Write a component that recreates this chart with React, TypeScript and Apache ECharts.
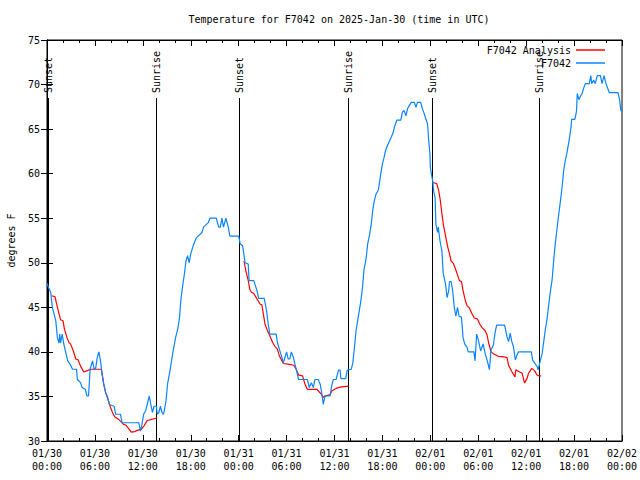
import React, { useEffect, useRef } from "react";
import * as echarts from "echarts";

// ---- Data (hours since 2025-01-30 00:00 UTC, degrees F) ----
const observedF7042: [number, number][] = [
  [0, 47.7], [0.2, 47.2], [0.46, 46.7], [0.67, 45], [1.1, 43.5], [1.3, 41.6], [1.5, 41.0], [1.6, 42], [1.7, 41], [1.9, 42],
  [2.1, 40.9], [2.3, 40.1], [2.6, 39.0], [2.9, 38.6], [3.2, 38.05], [3.7, 38.05], [3.8, 36.9], [4.2, 36.55], [4.4, 36], [4.8, 35.8],
  [5.0, 35.05], [5.2, 35.05], [5.4, 38.05], [5.7, 39], [5.9, 38.05], [6.1, 38.2], [6.3, 39.4], [6.5, 40], [6.7, 39], [6.9, 37.5],
  [7.1, 36.4], [7.35, 35.4], [7.55, 35.05], [7.8, 34.1], [8.4, 33.9], [8.6, 33.0], [9.2, 33], [9.4, 32.05], [11.5, 32.05], [11.7, 31.1],
  [11.9, 31.9], [12.1, 33], [12.35, 33.4], [12.55, 34.1], [12.8, 35.05], [13.0, 34.1], [13.2, 33.2], [13.4, 33.9], [13.7, 33.9], [13.8, 33],
  [14.0, 33.2], [14.2, 33.9], [14.4, 33.2], [14.6, 33], [14.9, 34.5], [15.1, 36.4], [15.4, 37.9], [15.7, 39.6], [16.1, 41.6], [16.4, 42.7],
  [16.6, 43.9], [16.75, 45.7], [16.95, 47.2], [17.2, 48.7], [17.4, 50.2], [17.6, 50.8], [17.8, 50.0], [18.0, 51.0], [18.3, 51.9],
  [18.7, 52.8], [19.4, 53.4], [19.6, 54.0], [20.2, 54.5], [20.4, 55.0], [21.2, 55.0], [21.5, 54.0], [21.7, 54], [21.9, 55], [22.1, 54],
  [22.4, 55], [22.7, 54], [22.9, 53.0], [24.0, 53.0], [24.2, 52.1], [24.5, 51.9], [24.8, 50.0], [25.2, 49.85], [25.3, 48.0], [25.9, 48],
  [26.3, 46.85], [26.5, 46.0], [27.2, 46], [27.5, 44.6], [27.7, 43.1], [27.9, 42.0], [28.7, 42], [28.85, 41.05], [29.2, 40], [29.4, 39.4],
  [29.6, 38.8], [29.8, 39.4], [30.0, 40], [30.2, 39.2], [30.4, 39.2], [30.6, 40], [30.85, 39.4], [31.05, 38.6], [31.25, 37.9], [31.5, 36.9],
  [32.6, 36.9], [32.85, 36.0], [33.1, 36.55], [33.35, 36], [33.55, 36.9], [33.95, 36.9], [34.2, 36.4], [34.4, 35.4], [34.6, 34.1], [34.8, 35.05],
  [35.45, 35.05], [35.65, 36.2], [35.85, 36.9], [36.2, 36.9], [36.5, 37.95], [36.7, 37.95], [36.8, 37.0], [37.4, 37.0], [37.6, 37.95], [38.1, 38.05],
  [38.3, 38.8], [38.5, 40.5], [38.7, 42.4], [38.9, 43.5], [39.1, 44.6], [39.3, 45.7], [39.5, 47.2], [39.7, 49.3], [39.95, 50.4], [40.15, 52.1],
  [40.4, 53.2], [40.6, 54.3], [40.8, 56.0], [41.0, 57.0], [41.2, 57.7], [41.5, 58.2], [41.8, 60.0], [42.0, 61.1], [42.2, 61.8], [42.4, 62.6],
  [42.6, 63.1], [42.9, 63.7], [43.1, 64.1], [43.3, 64.5], [43.5, 65.2], [43.8, 66.0], [44.3, 66.0], [44.5, 66.9], [44.7, 67.1], [44.95, 66.5],
  [45.15, 67.3], [45.6, 68.0], [46.0, 68.0], [46.2, 67.45], [46.4, 68.0], [46.8, 68.0], [47.0, 67.3], [47.25, 66.7], [47.45, 66.1], [47.65, 65.6],
  [47.8, 63.7], [47.95, 62.2], [48.0, 60.7], [48.2, 59.6], [48.3, 59.2], [48.4, 58.1], [48.6, 57.3], [48.7, 54.3], [48.9, 53.4], [49.0, 54.0],
  [49.2, 52.5], [49.45, 51.35], [49.6, 48.9], [49.9, 47.6], [50.1, 46.1], [50.3, 46.85], [50.4, 47.9], [50.6, 47.9], [50.8, 46.85], [51.0, 45.0],
  [51.2, 44.0], [51.4, 45.0], [51.6, 44.0], [51.9, 43.9], [52.1, 41.6], [52.3, 40.9], [52.6, 40.5], [52.75, 40.0], [53.45, 40.0], [53.6, 39.0],
  [53.8, 42.0], [54.0, 41.4], [54.3, 40.1], [54.6, 40.9], [54.9, 39.7], [55.1, 39.1], [55.4, 38.0], [55.6, 40.2], [55.9, 40.8], [56.1, 42.1],
  [56.3, 43.0], [57.3, 43.0], [57.6, 41.7], [57.8, 41.15], [58.0, 42.1], [58.2, 41.15], [58.4, 40.6], [58.65, 39.1], [58.85, 39.65], [59.05, 40.0],
  [60.65, 40.0], [60.8, 39.1], [61.4, 38.3], [61.5, 38.0], [61.8, 39.1], [62.0, 39.8], [62.2, 41.15], [62.4, 42.5], [62.6, 43.6], [62.8, 45.1],
  [63.0, 46.6], [63.25, 48.1], [63.45, 50.3], [63.65, 52.2], [63.9, 54.1], [64.1, 55.6], [64.3, 57.0], [64.5, 58.5], [64.7, 60.4], [64.9, 61.5],
  [65.1, 62.3], [65.35, 63.6], [65.6, 65.1], [65.7, 66.1], [66.1, 66.1], [66.3, 67.0], [66.4, 69.0], [66.6, 68.3], [66.8, 68.7], [67.0, 69.0],
  [67.2, 69.6], [67.4, 70.1], [67.9, 70.1], [68.1, 71.0], [68.2, 70.1], [68.45, 70.5], [68.65, 70.1], [68.9, 71.0], [69.3, 71.0], [69.5, 70.1],
  [69.75, 71.0], [70.0, 70.1], [70.4, 69.1], [71.5, 69.1], [71.7, 68.3], [71.85, 67.1], [72, 67.0],
];

const analysisNight1: [number, number][] = [
  [0.55, 46.3], [1.0, 46.2], [1.2, 45.4], [1.5, 44.3], [1.7, 43.6], [2.0, 43.5], [2.2, 42.5], [2.5, 41.6], [2.75, 41.05], [2.95, 40.9],
  [3.3, 40.1], [3.6, 39.2], [3.9, 39.1], [4.2, 38.4], [4.6, 37.75], [5.05, 37.9], [5.5, 38.05], [6.8, 38.05], [6.9, 37.5], [7.1, 36.4],
  [7.35, 35.4], [7.7, 34.5], [7.9, 33.9], [8.2, 33.2], [8.5, 32.7], [9.0, 32.4], [9.55, 31.9], [9.85, 31.8], [10.3, 31.3], [10.55, 31.0],
  [11.0, 31.05], [11.3, 31.2], [11.8, 31.3], [12.15, 31.7], [12.55, 32.3], [13.0, 32.4], [13.4, 32.5], [13.8, 32.6],
];
const analysisNight2: [number, number][] = [
  [24.67, 50.2], [24.9, 49.1], [25.2, 48.0], [25.4, 47.0], [25.6, 46.7], [25.9, 46.55], [26.25, 46.0], [26.7, 45.35], [26.9, 45.3], [27.1, 44.2],
  [27.3, 43.1], [27.6, 42.4], [27.9, 41.8], [28.25, 41.05], [28.55, 40.6], [28.85, 40.3], [29.1, 39.55], [29.3, 39.2], [29.6, 38.7], [30.35, 38.6],
  [30.9, 38.5], [31.2, 38.05], [31.5, 37.4], [32.0, 37.3], [32.3, 36.4], [32.6, 35.8], [33.8, 35.8], [34.1, 35.5], [34.4, 35.2], [34.6, 34.9],
  [34.8, 35.05], [35.45, 35.2], [35.65, 35.6], [36.2, 35.9], [36.7, 36.05], [37.2, 36.1], [37.8, 36.15],
];
const analysisNight3: [number, number][] = [
  [48.3, 59.0], [48.8, 58.9], [49.05, 58.1], [49.25, 57.0], [49.45, 55.5], [49.65, 54.2], [49.95, 52.8], [50.2, 51.7], [50.4, 51.0], [50.6, 50.2],
  [50.9, 49.9], [51.15, 49.3], [51.45, 48.5], [51.65, 48.0], [51.9, 47.9], [52.1, 46.85], [52.4, 45.7], [52.6, 45.2], [52.9, 44.9], [53.2, 44.3],
  [53.5, 43.8], [53.9, 43.7], [54.2, 43.1], [54.5, 42.7], [54.85, 42.4], [55.1, 41.9], [55.3, 41.0], [55.6, 40.0], [55.9, 39.8], [56.5, 39.5],
  [57.2, 39.45], [57.6, 39.35], [57.8, 38.5], [58.2, 37.8], [58.6, 37.2], [58.7, 38.0], [59.05, 37.8], [59.5, 37.6], [59.8, 36.5], [60.1, 37.0],
  [60.3, 37.6], [60.7, 38.15], [61.05, 37.9], [61.35, 37.4], [61.65, 37.3], [61.9, 37.3],
];

const sunHours = [0.12, 13.68, 24.05, 37.72, 48.17, 61.66];
const sunLabels = ["Sunset", "Sunrise", "Sunset", "Sunrise", "Sunset", "Sunrise"];

const dayLabels = ["01/30", "01/31", "02/01", "02/02"];
const titleText = "Temperature for F7042 on 2025-Jan-30 (time in UTC)";
const yName = "degrees F";
const seriesNames = ["F7042 Analysis", "F7042"];

const FONT = "DejaVu Sans Mono";

export default function App() {
  const ref = useRef<HTMLDivElement>(null);

  useEffect(() => {
    if (!ref.current) return;
    const chart = echarts.init(ref.current, undefined, { renderer: "svg" });

    const xFmt = (v: number) => {
      const d = Math.floor(v / 24 + 1e-9);
      const hh = Math.round(v - d * 24);
      return `${dayLabels[d]}\n${String(hh).padStart(2, "0")}:00`;
    };

    const analysisStyle = {
      type: "line" as const,
      name: seriesNames[0],
      showSymbol: false,
      symbol: "none",
      lineStyle: { color: "#ff0000", width: 1.2 },
      itemStyle: { color: "#ff0000" },
      z: 2,
    };

    chart.setOption({
      animation: false,
      backgroundColor: "#ffffff",
      title: {
        text: titleText,
        left: 334,
        top: 9,
        textAlign: "center",
        textStyle: { fontFamily: FONT, fontSize: 10, fontWeight: "normal", color: "#000" },
      },
      legend: {
        data: seriesNames.map((n) => ({ name: n, icon: "rect" })),
        orient: "vertical",
        right: 30,
        top: 39,
        align: "right",
        itemWidth: 29,
        itemHeight: 1.5,
        itemGap: 1,
        textStyle: { fontFamily: FONT, fontSize: 10, color: "#000", lineHeight: 12 },
      },
      grid: {
        left: 47,
        right: 18,
        top: 40,
        bottom: 39,
        show: true,
        borderColor: "#000",
        borderWidth: 1,
        containLabel: false,
        outerBoundsMode: "none",
      },
      xAxis: [
        {
          type: "value",
          min: 0,
          max: 72,
          interval: 6,
          axisLine: { show: true, lineStyle: { color: "#000" } },
          axisTick: { inside: true, length: 6, lineStyle: { color: "#000" } },
          minorTick: { show: true, splitNumber: 3, length: 3, lineStyle: { color: "#000" } },
          splitLine: { show: false },
          axisLabel: {
            formatter: xFmt,
            fontFamily: FONT,
            fontSize: 10,
            color: "#000",
            lineHeight: 13,
            margin: 6,
            showMinLabel: true,
            showMaxLabel: true,
          },
        },
        {
          type: "value",
          position: "top",
          min: 0,
          max: 72,
          interval: 6,
          axisLine: { show: true, lineStyle: { color: "#000" } },
          axisTick: { inside: true, length: 6, lineStyle: { color: "#000" } },
          minorTick: { show: true, splitNumber: 3, length: 3, lineStyle: { color: "#000" } },
          splitLine: { show: false },
          axisLabel: { show: false },
        },
      ],
      yAxis: [
        {
          type: "value",
          min: 30,
          max: 75,
          interval: 5,
          name: yName,
          nameLocation: "middle",
          nameGap: 31,
          nameRotate: 90,
          nameTextStyle: { fontFamily: FONT, fontSize: 10, color: "#000" },
          axisLine: { show: true, lineStyle: { color: "#000" } },
          axisTick: { inside: true, length: 6, lineStyle: { color: "#000" } },
          splitLine: { show: false },
          axisLabel: { fontFamily: FONT, fontSize: 10, color: "#000", margin: 7 },
        },
        {
          type: "value",
          position: "right",
          min: 30,
          max: 75,
          interval: 5,
          axisLine: { show: true, lineStyle: { color: "#000" } },
          axisTick: { inside: true, length: 6, lineStyle: { color: "#000" } },
          splitLine: { show: false },
          axisLabel: { show: false },
        },
      ],
      series: [
        {
          type: "custom",
          name: "sun",
          data: sunHours.map((h, i) => [h, i]),
          clip: false,
          z: 1,
          renderItem: (_params: any, api: any) => {
            const h = api.value(0);
            const idx = api.value(1);
            const bottom = api.coord([h, 30]);
            const top = api.coord([h, 75]);
            const x = Math.round(bottom[0]) + 0.5;
            return {
              type: "group",
              children: [
                {
                  type: "line",
                  shape: { x1: x, y1: top[1] + 58, x2: x, y2: bottom[1] },
                  style: { stroke: "#000", lineWidth: 1 },
                },
                {
                  type: "text",
                  x: x,
                  y: top[1] + 53,
                  rotation: Math.PI / 2,
                  style: {
                    text: sunLabels[idx],
                    font: `10px "${FONT}"`,
                    fill: "#000",
                    align: "left",
                    verticalAlign: "middle",
                  },
                },
              ],
            };
          },
        },
        { ...analysisStyle, data: analysisNight1 },
        { ...analysisStyle, data: analysisNight2 },
        { ...analysisStyle, data: analysisNight3 },
        {
          type: "line",
          name: seriesNames[1],
          data: observedF7042,
          showSymbol: false,
          symbol: "none",
          lineStyle: { color: "#0a84ff", width: 1.2 },
          itemStyle: { color: "#0a84ff" },
          z: 3,
        },
      ],
    });

    return () => chart.dispose();
  }, []);

  return (
    <div
      ref={ref}
      style={{ position: "fixed", left: 0, top: 0, width: 640, height: 480, background: "#fff" }}
    />
  );
}
